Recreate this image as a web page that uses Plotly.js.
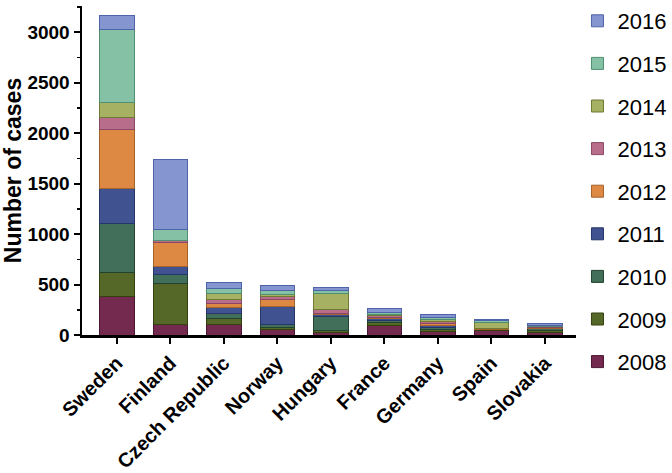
<!DOCTYPE html>
<html>
<head>
<meta charset="utf-8">
<script src="https://cdn.plot.ly/plotly-3.0.1.min.js"></script>
<style>html,body{margin:0;padding:0;background:#fff;}#chart{width:672px;height:473px;}</style>
</head>
<body>
<div id="chart"></div>
<script>
var countries = ["Sweden", "Finland", "Czech Republic", "Norway", "Hungary", "France", "Germany", "Spain", "Slovakia"];
var years = ["2008", "2009", "2010", "2011", "2012", "2013", "2014", "2015", "2016"];
var cases2008 = [377, 109, 104, 56, 23, 99, 35, 46, 25];
var cases2009 = [240, 399, 56, 23, 24, 23, 15, 5, 15];
var cases2010 = [486, 93, 56, 27, 132, 17, 25, 5, 20];
var cases2011 = [351, 80, 59, 181, 20, 23, 20, 3, 5];
var cases2012 = [587, 231, 40, 60, 13, 10, 20, 5, 5];
var cases2013 = [113, 20, 40, 30, 44, 17, 20, 5, 10];
var cases2014 = [148, 9, 55, 25, 152, 17, 20, 55, 5];
var cases2015 = [724, 100, 50, 40, 30, 17, 20, 15, 12];
var cases2016 = [138, 696, 60, 50, 30, 44, 25, 10, 15];
var seriesValues = [cases2008, cases2009, cases2010, cases2011, cases2012, cases2013, cases2014, cases2015, cases2016];

var fills = ["#74294f", "#566827", "#426f59", "#40528f", "#dd8943", "#b86d8b", "#a6b163", "#85c1a5", "#8595cf"];
var edges = ["#4a1530", "#33410f", "#22432f", "#26366a", "#a5622a", "#8a4866", "#6f7a33", "#4f8f70", "#4f63a8"];

var traces = years.map(function(y, i) {
  return {
    type: "bar",
    name: y,
    x: countries,
    y: seriesValues[i],
    legendgroup: y,
    legendrank: years.length - i,
    marker: {color: fills[i], line: {color: edges[i], width: 1}},
    hoverinfo: "x+y+name"
  };
});

var layout = {
  width: 672,
  height: 473,
  barmode: "stack",
  bargap: 0.355,
  paper_bgcolor: "#ffffff",
  plot_bgcolor: "#ffffff",
  margin: {l: 82, r: 96, t: 6, b: 138, autoexpand: false},
  font: {family: "Liberation Sans, Arial, sans-serif", color: "#000"},
  xaxis: {
    range: [-0.65, 8.58],
    automargin: false,
    showgrid: false,
    zeroline: false,
    showline: true,
    linecolor: "#000",
    linewidth: 2.5,
    ticks: "outside",
    ticklen: 6,
    tickwidth: 2,
    tickcolor: "#000",
    tickangle: -45,
    tickfont: {family: "Liberation Sans, Arial, sans-serif", size: 20, weight: "bold", color: "#000"}
  },
  yaxis: {
    range: [0, 3260],
    automargin: false,
    tickvals: [0, 500, 1000, 1500, 2000, 2500, 3000],
    showgrid: false,
    zeroline: false,
    showline: true,
    linecolor: "#000",
    linewidth: 2.5,
    ticks: "outside",
    ticklen: 6,
    tickwidth: 2,
    tickcolor: "#000",
    minor: {tickvals: [250, 750, 1250, 1750, 2250, 2750, 3250], ticks: "outside", ticklen: 3, tickwidth: 1.5, tickcolor: "#000"},
    tickfont: {family: "Liberation Sans, Arial, sans-serif", size: 19, weight: "bold", color: "#000"},
    title: {text: "Number of cases", standoff: 6, font: {family: "Liberation Sans, Arial, sans-serif", size: 23, weight: "bold", color: "#000"}}
  },
  legend: {
    x: 1.003,
    xanchor: "left",
    yref: "container",
    y: 1.015,
    yanchor: "top",
    maxheight: 1,
    traceorder: "grouped",
    tracegroupgap: 11,
    itemwidth: 30,
    font: {family: "Liberation Sans, Arial, sans-serif", size: 22, color: "#000"},
    bgcolor: "rgba(0,0,0,0)"
  },
  showlegend: true
};

Plotly.newPlot("chart", traces, layout, {displayModeBar: false, staticPlot: true});
</script>
</body>
</html>
